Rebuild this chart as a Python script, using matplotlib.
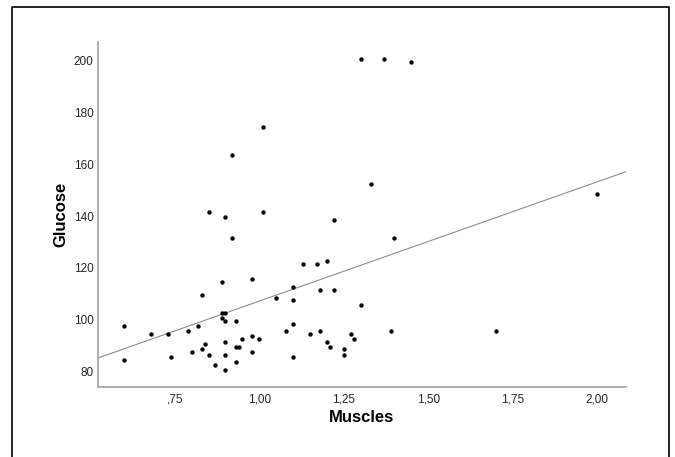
import numpy as np
import matplotlib
matplotlib.use("Agg")
import matplotlib.pyplot as plt
from matplotlib.lines import Line2D

plt.rcParams['font.family'] = ['Liberation Sans', 'DejaVu Sans']

# values (Muscles vs Glucose)
muscles = [0.85, 0.90, 1.01, 0.92, 1.22, 1.13, 1.17, 1.20, 0.89, 0.98,
           1.10, 1.05, 1.10, 1.18, 1.22, 0.83, 1.30, 0.89, 0.90, 0.89,
           0.90, 0.93, 0.60, 0.82, 0.68, 0.73, 0.79, 1.10, 1.08, 1.15,
           1.18, 1.27, 1.28, 0.95, 0.98, 1.00, 0.84, 0.83, 0.80, 0.85,
           0.90, 0.93, 0.94, 0.90, 0.98, 0.74, 0.60, 0.87, 0.93, 0.90,
           1.10, 1.20, 1.21, 1.25, 1.25, 0.92, 1.01, 1.30, 1.37, 1.45,
           1.33, 2.00, 1.40, 1.39, 1.70]
glucose = [141.5, 139.5, 141.5, 131.5, 138.5, 121.5, 121.5, 122.5, 114.5, 115.5,
           112.5, 108.5, 107.5, 111.5, 111.5, 109.5, 105.5, 102.5, 102.5, 100.5,
           99.5, 99.5, 97.5, 97.5, 94.5, 94.5, 95.5, 98.5, 95.5, 94.5,
           95.5, 94.5, 92.5, 92.5, 93.5, 92.5, 90.5, 88.5, 87.5, 86.5,
           91.5, 89.5, 89.5, 86.5, 87.5, 85.5, 84.5, 82.5, 83.5, 80.5,
           85.5, 91.5, 89.5, 88.5, 86.5, 163.5, 174.5, 200.5, 200.5, 199.5,
           152.5, 148.5, 131.5, 95.5, 95.5]

xticks = [0.75, 1.00, 1.25, 1.50, 1.75, 2.00]
xtick_labels = [",75", "1,00", "1,25", "1,50", "1,75", "2,00"]
yticks = [80, 100, 120, 140, 160, 180, 200]

fig = plt.figure(figsize=(6.75, 4.57), dpi=100)
ax = fig.add_axes([0.1447, 0.1538, 0.7827, 0.755])

ax.scatter(muscles, glucose, s=10, color='black', linewidths=0, zorder=3)

xlim = (0.522, 2.085)
ax.set_xlim(xlim)
ax.set_ylim(74.1, 207.3)

# linear fit line across the whole x range
slope, intercept = np.polyfit(muscles, glucose, 1)
xs = np.array(xlim)
ax.plot(xs, intercept + slope * xs, color='#8c8c8c', linewidth=0.8, zorder=2)

ax.set_xticks(xticks)
ax.set_xticklabels(xtick_labels)
ax.set_yticks(yticks)
ax.tick_params(length=0, labelsize=8.5, labelcolor='#262626')
ax.tick_params(axis='x', pad=5)
ax.tick_params(axis='y', pad=3)

for side in ['top', 'right']:
    ax.spines[side].set_visible(False)
for side in ['left', 'bottom']:
    ax.spines[side].set_color('#a8a8a8')
    ax.spines[side].set_linewidth(1.3)

ax.set_xlabel("Muscles", fontsize=12, fontweight='bold', labelpad=3)
ax.set_ylabel("Glucose", fontsize=12, fontweight='bold', labelpad=4)

# outer frame (open at the bottom)
fx0, fx1, fy1 = 11.7 / 675, 669.3 / 675, 1 - 7.3 / 457
fig.add_artist(Line2D([fx0, fx0, fx1, fx1], [0, fy1, fy1, 0],
                      transform=fig.transFigure, color='black', linewidth=1.2))

fig.savefig("out.png", dpi=100)
